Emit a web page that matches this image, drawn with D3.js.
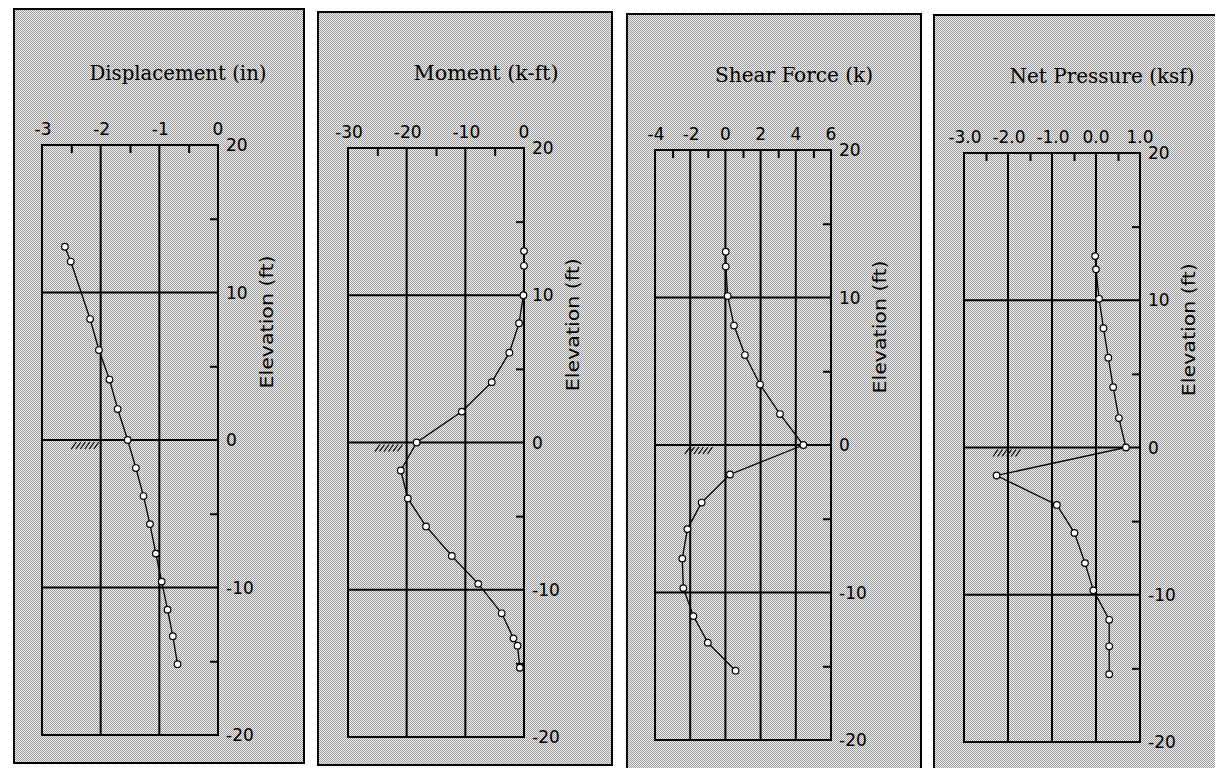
<!DOCTYPE html>
<html>
<head>
<meta charset="utf-8">
<script src="https://cdn.jsdelivr.net/npm/d3@7"></script>
<style>
  body { margin: 0; background: #fff; }
  svg { display: block; }
</style>
</head>
<body>
<svg id="chart" width="1215" height="768"></svg>
<script>
// valores (elevacao em ft)
var dispElev = [13.1, 12.1, 8.2, 6.1, 4.1, 2.1, 0, -1.9, -3.8, -5.7, -7.7, -9.6, -11.5, -13.3, -15.2];
var dispVals = [-2.61, -2.51, -2.18, -2.03, -1.85, -1.71, -1.54, -1.40, -1.27, -1.16, -1.06, -0.96, -0.86, -0.77, -0.69];

var momentElev = [13.0, 12.0, 10.0, 8.1, 6.1, 4.1, 2.1, 0, -1.9, -3.8, -5.7, -7.7, -9.6, -11.6, -13.3, -13.8, -15.3];
var momentVals = [0, 0, -0.1, -0.85, -2.5, -5.5, -10.6, -18.3, -21.0, -19.8, -16.7, -12.3, -7.8, -3.8, -1.8, -1.1, -0.7];

var shearElev = [13.1, 12.1, 10.1, 8.1, 6.1, 4.1, 2.1, 0, -2.0, -3.9, -5.7, -7.7, -9.7, -11.6, -13.4, -15.3];
var shearVals = [0.02, 0.02, 0.13, 0.49, 1.11, 1.97, 3.1, 4.43, 0.26, -1.35, -2.16, -2.45, -2.39, -1.82, -1.0, 0.58];

var pressElev = [13.0, 12.1, 10.1, 8.1, 6.1, 4.1, 2.0, 0, -1.9, -3.9, -5.8, -7.85, -9.7, -11.7, -13.5, -15.4];
var pressVals = [-0.02, 0.0, 0.07, 0.17, 0.28, 0.39, 0.52, 0.68, -2.26, -0.89, -0.49, -0.25, -0.06, 0.30, 0.30, 0.30];

var titles = ["Displacement (in)", "Moment (k-ft)", "Shear Force (k)", "Net Pressure (ksf)"];
var xDomains = [[-3, 0], [-30, 0], [-4, 6], [-3, 1]];
var xTickVals = [[-3, -2, -1, 0], [-30, -20, -10, 0], [-4, -2, 0, 2, 4, 6], [-3, -2, -1, 0, 1]];
var xGridVals = [[-2, -1], [-20, -10], [-2, 0, 2, 4], [-2, -1, 0]];
var xMinorVals = [[-2.5, -1.5, -0.5], [-25, -15, -5], [-3, -1, 1, 3, 5], [-2.5, -1.5, -0.5, 0.5]];
var xTickDecimals = [0, 0, 0, 1];
var groundX = [-2.5, -25.4, -2.3, -2.34];

var elevTicks = [20, 10, 0, -10, -20];
var elevGrid = [10, 0, -10];
var elevMinor = [15, 5, -5, -15];

// layout de cada painel (moldura, area do grafico, titulo)
var panels = [
  {frame: [14, 9, 290, 754],  plot: [42, 218, 145, 735],  titleX: 178, titleY: 80, titleW: 177, elev: dispElev,   vals: dispVals},
  {frame: [318, 12, 294, 753], plot: [348, 524, 148, 737], titleX: 486, titleY: 80, titleW: 145, elev: momentElev, vals: momentVals},
  {frame: [627, 14, 294, 760], plot: [655, 831, 150, 740], titleX: 794, titleY: 82, titleW: 158, elev: shearElev,  vals: shearVals},
  {frame: [934, 15, 300, 760], plot: [964, 1140, 153, 742], titleX: 1102, titleY: 83, titleW: 185, elev: pressElev, vals: pressVals}
];

var svg = d3.select("#chart");

var defs = svg.append("defs");
var pat = defs.append("pattern")
    .attr("id", "dither")
    .attr("patternUnits", "userSpaceOnUse")
    .attr("width", 2)
    .attr("height", 2);
pat.append("rect").attr("width", 2).attr("height", 2).attr("fill", "#efefef");
pat.append("rect").attr("x", 0).attr("y", 0).attr("width", 1).attr("height", 1).attr("fill", "#9c9c9c");
pat.append("rect").attr("x", 1).attr("y", 1).attr("width", 1).attr("height", 1).attr("fill", "#9c9c9c");

var lblFont = "'DejaVu Sans', 'Liberation Sans', sans-serif";

panels.forEach(function(p, i) {
    var g = svg.append("g");

    g.append("rect")
        .attr("x", p.frame[0])
        .attr("y", p.frame[1])
        .attr("width", p.frame[2])
        .attr("height", p.frame[3])
        .attr("fill", "url(#dither)")
        .attr("stroke", "#000")
        .attr("stroke-width", 2);

    var x = d3.scaleLinear().domain(xDomains[i]).range([p.plot[0], p.plot[1]]);
    var y = d3.scaleLinear().domain([-20, 20]).range([p.plot[3], p.plot[2]]);

    // titulo
    g.append("text")
        .attr("x", p.titleX)
        .attr("y", p.titleY)
        .attr("text-anchor", "middle")
        .attr("textLength", p.titleW)
        .attr("lengthAdjust", "spacingAndGlyphs")
        .style("font-family", "'DejaVu Serif', 'Liberation Serif', serif")
        .style("font-stretch", "condensed")
        .style("font-size", "21px")
        .style("fill", "#000")
        .text(titles[i]);

    // grade
    g.append("g").selectAll("line")
        .data(xGridVals[i])
        .enter()
        .append("line")
        .attr("x1", function(d) { return x(d); })
        .attr("x2", function(d) { return x(d); })
        .attr("y1", y(20))
        .attr("y2", y(-20))
        .attr("stroke", "#000")
        .attr("stroke-width", 2);

    g.append("g").selectAll("line")
        .data(elevGrid)
        .enter()
        .append("line")
        .attr("x1", x.range()[0])
        .attr("x2", x.range()[1])
        .attr("y1", function(d) { return y(d); })
        .attr("y2", function(d) { return y(d); })
        .attr("stroke", "#000")
        .attr("stroke-width", 2);

    // eixo de cima e da direita (ticks para dentro)
    var topAxis = d3.axisTop(x).tickValues(xMinorVals[i]).tickSize(-8).tickFormat("");
    g.append("g")
        .attr("transform", "translate(0," + y(20) + ")")
        .call(topAxis)
        .call(function(s) { s.select(".domain").remove(); })
        .selectAll("line").attr("stroke-width", 2);

    var rightAxis = d3.axisRight(y).tickValues(elevMinor).tickSize(-8).tickFormat("");
    g.append("g")
        .attr("transform", "translate(" + x.range()[1] + ",0)")
        .call(rightAxis)
        .call(function(s) { s.select(".domain").remove(); })
        .selectAll("line").attr("stroke-width", 2);

    g.append("rect")
        .attr("x", x.range()[0])
        .attr("y", y(20))
        .attr("width", x.range()[1] - x.range()[0])
        .attr("height", y(-20) - y(20))
        .attr("fill", "none")
        .attr("stroke", "#000")
        .attr("stroke-width", 2);

    // rotulos dos ticks (hifen comum, como no original)
    g.append("g").selectAll("text")
        .data(xTickVals[i])
        .enter()
        .append("text")
        .attr("x", function(d) { return x(d) + (d < 0 ? 1 : 0); })
        .attr("y", y(20) - 10)
        .attr("text-anchor", "middle")
        .style("font-family", lblFont)
        .style("font-size", "17px")
        .text(function(d) { return d.toFixed(xTickDecimals[i]); });

    g.append("g").selectAll("text")
        .data(elevTicks)
        .enter()
        .append("text")
        .attr("x", x.range()[1] + 8)
        .attr("y", function(d) { return y(d); })
        .attr("dy", "0.36em")
        .style("font-family", lblFont)
        .style("font-size", "17px")
        .text(function(d) { return String(d); });

    g.append("text")
        .attr("transform", "translate(" + (x.range()[1] + 55) + "," + y(8) + ") rotate(-90)")
        .attr("text-anchor", "middle")
        .attr("textLength", 133)
        .attr("lengthAdjust", "spacingAndGlyphs")
        .style("font-family", lblFont)
        .style("font-size", "18px")
        .text("Elevation (ft)");

    // simbolo do terreno
    var gx = x(groundX[i]), gy = y(0);
    var hatch = d3.range(6);
    g.append("g").selectAll("line")
        .data(hatch)
        .enter()
        .append("line")
        .attr("x1", function(d) { return gx + d * 4.5; })
        .attr("y1", gy + 9)
        .attr("x2", function(d) { return gx + d * 4.5 + 5; })
        .attr("y2", gy + 2)
        .attr("stroke", "#000")
        .attr("stroke-width", 1.2);

    // serie
    var pts = p.elev.map(function(e, k) { return {e: e, v: p.vals[k]}; });
    var line = d3.line()
        .x(function(d) { return x(d.v); })
        .y(function(d) { return y(d.e); });

    g.append("path")
        .datum(pts)
        .attr("d", line)
        .attr("fill", "none")
        .attr("stroke", "#000")
        .attr("stroke-width", 1.3);

    g.append("g").selectAll("circle")
        .data(pts)
        .enter()
        .append("circle")
        .attr("cx", function(d) { return x(d.v); })
        .attr("cy", function(d) { return y(d.e); })
        .attr("r", 3.3)
        .attr("fill", "#fff")
        .attr("stroke", "#000")
        .attr("stroke-width", 1.2);
});
</script>
</body>
</html>
